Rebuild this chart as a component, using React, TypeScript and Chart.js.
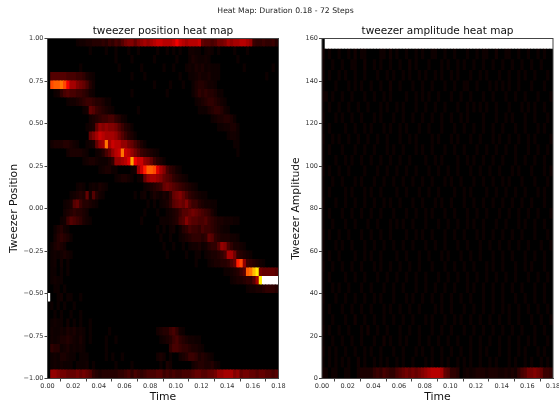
import React, { useEffect, useRef } from "react";
import { Chart, registerables } from "chart.js";

Chart.register(...registerables);

const STEP_WIDTH = 0.0025;
const TIME_MAX = 0.18;
const TIME_TICK_STEP = 0.02;

// Each row is one band of the heat map, top band first, one base-36 digit per time step (0 to z).
const POSITION_ROWS = [
  "00000000 01223344 45465768 abb9bcdc deffeeef hfedeeef 98878aab dcddeedc 65565564",
  "00000000 00000100 00100100 01001000 00100101 01002211 01210100 00100010 00000000",
  "00000000 00000000 00000100 00100000 01000000 10001321 12100000 00010000 00000000",
  "00000000 00100000 00000010 00000100 00001001 00012132 31211100 00000100 00000010",
  "08888877 76653210 00000000 00100010 00000000 01001123 22311100 00000000 00001000",
  "0lmmnlhd dba97420 00000000 00000000 01000010 00100134 43221000 00000000 00000000",
  "00125787 76654210 00000000 00100000 00000100 00000135 45443110 00000000 00000000",
  "00000012 23456654 43110000 00000000 00000000 00000012 34554321 00000000 00000000",
  "00000000 00012986 54321000 00001000 00000000 00000001 11345542 10000000 00000000",
  "00000000 00000234 56677542 10000000 00000000 00000000 00012334 43100000 00000000",
  "00000000 00001239 cbcbba86 43100000 00000000 00000000 00000112 23310000 00000000",
  "00000000 000009bd fedddca8 64310000 00000000 00000000 00000000 12210000 00000000",
  "02333443 21001239 cdndfeec ca975310 00000000 00000000 00000000 00110000 00000000",
  "00000023 33321001 2479cefn feca8654 32100000 00000000 00000000 00010000 00000000",
  "00000000 00012332 11135ccd egphffcb 96431000 00000000 00000000 00000000 00000000",
  "00000000 00000000 12331100 0012cfjm mlgdb754 21000000 00000000 00000000 00000000",
  "00000000 00000000 00000123 3210129c ddcb9875 43210000 00000000 00000000 00000000",
  "00000000 01210121 32100000 00000012 34569a98 76543210 00000000 00000000 00000000",
  "00000001 23439284 21000000 00010120 13213259 ab975432 11000000 00000000 00000000",
  "00000123 89644321 00000000 00000001 01012358 9a9b8664 32211000 00000000 00000000",
  "00000234 54432000 00000000 00000010 00100123 46889a98 76531000 00000000 00000000",
  "00001268 76532100 00000000 00000100 00011123 478b9887 78654332 22110000 00000000",
  "00134210 00000000 00000000 00000000 00101012 01457665 76654321 10000000 00000000",
  "00245431 00000000 00000000 00000000 00010010 01234555 45985433 32210000 00000000",
  "01343200 00000000 00000000 00000000 00001001 00101223 124558cb 75332100 00000000",
  "01212321 00000000 00000000 00000000 00000100 00010011 01233457 dda54321 00000000",
  "01202010 00000000 00000000 00000000 00000000 00000010 00123344 579jlc65 43210000",
  "01101010 00000000 00000000 00000000 00000000 00000000 00000001 123468mn qsa99998",
  "01211000 00000000 00000000 00000000 00000000 00000000 00000000 01233455 8dszzzzz",
  "00110100 00000000 00000000 00000000 00000000 00000000 00000000 00000012 23345554",
  "z0012011 00100000 00000000 00000000 00000000 00000000 00000000 00000000 00000000",
  "01010100 10000000 00000000 00000000 00000000 00000000 00000000 00000000 00000000",
  "00101001 00100000 00000000 00000000 00000000 00000000 00000000 00000000 00000000",
  "01211020 10100100 00000000 00000000 00000000 00000000 00000000 00000000 00000000",
  "02112132 31210100 00010000 00000000 00234467 52100000 00000000 00000000 00000000",
  "02123343 21310100 00100100 00000000 00012346 75432211 00000000 00000000 00000000",
  "05441231 21210000 00100000 00000000 00000057 76554332 10000000 00000000 00000000",
  "01213321 10111000 00101001 00000000 00232010 02346653 43210000 00000000 00000000",
  "01212111 01112010 00000100 00100000 00010320 00000234 43342100 00000000 00000000",
  "0ccbaa99 9a9a9854 34444455 67576567 77886767 66777899 8899accd ddbc9aa9 98998878",
];

const AMPLITUDE_ROWS = [
  "0zzzzzzz zzzzzzzz zzzzzzzz zzzzzzzz zzzzzzzz zzzzzzzz zzzzzzzz zzzzzzzz zzzzzzzz",
  "20100100 10201100 00110201 00100101 00110010 01000100 10110020 01100100 10010100",
  "10010010 01100200 10100100 10020100 01000101 00101001 00100100 10010010 01001000",
  "20100101 00100100 01001010 01010010 10010100 10100010 01010001 00100101 00100010",
  "10001000 10101001 00100200 10001001 00100010 01001100 10001010 10100100 01000100",
  "21010010 01000100 10010100 00100101 01001000 10010010 00100100 01001001 00010001",
  "10100100 10010010 00101001 01000100 10010010 00100101 01010010 00100010 10100100",
  "20001010 01001000 10100010 01001001 00100100 10010100 00100010 01010001 00100010",
  "10100001 00100101 00010100 10100010 01000100 01001001 00100100 10001001 00010100",
  "20010100 10010010 01001000 10010100 00101000 10100010 01000101 00100100 10100001",
  "10100010 00100100 10001010 01000101 00100010 01001000 10010010 01001000 10010010",
  "10001001 01001001 00100100 10010000 10010100 00100101 00100100 10001001 00100100",
  "20100100 10000100 01001001 00100100 01001001 00100010 01001001 00010100 01000101",
  "10010010 00101000 10010010 01001001 00100010 10010001 00100100 10100010 00100010",
  "10100001 01000101 00100001 00100010 01001000 01001010 00010010 01001001 00010100",
  "20001001 00100100 10010100 10001001 00010100 10001001 00100100 10010010 01000100",
  "10100010 01001001 00100010 00100100 10100010 01000100 10010001 00100100 10010001",
  "10010001 00100010 01000101 01001000 10001001 00100101 00100010 01000101 00100100",
  "20100100 10001001 00100100 00100101 00100010 01001000 10100100 10010010 00100010",
  "10001010 01000100 10010010 01001000 10010010 00100100 01001001 00100100 10001001",
  "10100100 00100101 00100001 00100010 01000101 00010010 01000100 10010001 00100100",
  "20010010 01001000 10100100 10010010 00100010 01001001 00010100 10001001 01000100",
  "10100001 00100100 01001001 00100100 10001001 00100100 10010010 01001000 10010010",
  "10010100 10001001 00010010 01000100 10010010 01000101 00100100 10010010 00100100",
  "20001001 00100100 10100010 00101001 00100100 10010010 00100100 10001001 00100100",
  "10100010 01001001 00010100 10010010 00010100 10001001 00100100 10100100 10010010",
  "10010001 00200100 10010010 01001000 10100010 01010010 01001001 00100100 01001001",
  "20100100 10001020 01001000 10010010 00100100 10001001 00100100 10010010 00100100",
  "10010010 01001000 10020100 10100010 01001001 00100010 01001001 00100100 10100010",
  "20101001 00100101 00100010 01000101 00100100 10010010 01010001 00100101 00010100",
  "10101010 10020100 10101001 01001000 10100101 00101010 01001010 00101001 01001010",
  "21011001 10023333 56576557 89a9a9ab cdeeed98 55401212 33323332 23232578 aaba9665",
];

const hot = (v: number): string => {
  const clamp = (t: number) => Math.max(0, Math.min(1, t));
  const r = clamp(v / 0.365);
  const g = clamp((v - 0.365) / 0.381);
  const b = clamp((v - 0.746) / 0.254);
  return `rgb(${Math.round(r * 255)},${Math.round(g * 255)},${Math.round(b * 255)})`;
};

const level = (d: number): number =>
  d === 0 ? 0 : Math.min(1, Math.pow(d / 35, 1.5) + 0.015 * (1 - d / 35));

const decode = (rows: string[]): number[][] =>
  rows.map((row) =>
    row
      .replace(/ /g, "")
      .padEnd(72, "0")
      .split("")
      .map((ch) => level(parseInt(ch, 36)))
  );

const frame = {
  id: "frame",
  beforeDatasetsDraw(chart: any) {
    const { ctx, chartArea: a } = chart;
    ctx.save();
    ctx.fillStyle = "#000";
    ctx.fillRect(a.left, a.top, a.right - a.left, a.bottom - a.top);
    ctx.restore();
  },
  afterDraw(chart: any) {
    const { ctx, chartArea: a } = chart;
    ctx.save();
    ctx.strokeStyle = "#444";
    ctx.lineWidth = 1;
    ctx.strokeRect(a.left, a.top, a.right - a.left, a.bottom - a.top);
    ctx.restore();
  },
};

type PanelProps = {
  rows: string[];
  yMin: number;
  yMax: number;
  yStep: number;
  digits: number;
  title: string;
  yTitle: string;
  areaLeft: number;
  rightPad: number;
  titleInset: number;
  left: number;
  width: number;
};

function Panel(p: PanelProps) {
  const ref = useRef<HTMLCanvasElement>(null);
  useEffect(() => {
    const grid = decode(p.rows);
    const band = (p.yMax - p.yMin) / grid.length;
    const points: any[] = [];
    const colors: string[] = [];
    grid.forEach((row, r) =>
      row.forEach((v, c) => {
        const hi = p.yMax - r * band;
        points.push({ x: (c + 0.5) * STEP_WIDTH, y: [hi - band, hi] });
        colors.push(hot(v));
      })
    );
    const tickFont = { family: "'DejaVu Sans'", size: 6.5 };
    const titleFont = { family: "'DejaVu Sans'", size: 10.5, weight: "normal" as const };
    const axisFont = { family: "'DejaVu Sans'", size: 10.8, weight: "normal" as const };
    const chart = new Chart(ref.current!, {
      type: "bar",
      data: {
        datasets: [
          {
            data: points,
            backgroundColor: colors,
            borderWidth: 0,
            categoryPercentage: 1,
            barPercentage: 1,
            inflateAmount: 0.5,
          } as any,
        ],
      },
      plugins: [frame],
      options: {
        animation: false,
        responsive: false,
        devicePixelRatio: 1,
        layout: { padding: { top: 24.7, right: p.rightPad, left: 0, bottom: 0 } },
        plugins: {
          legend: { display: false },
          tooltip: { enabled: false },
          title: {
            display: true,
            text: p.title,
            fullSize: false,
            color: "#111",
            font: titleFont,
            padding: { top: 0, bottom: 1.2 },
          },
        },
        scales: {
          x: {
            type: "linear",
            min: 0,
            max: TIME_MAX,
            offset: false,
            grid: { drawOnChartArea: false, tickLength: 3, color: "#444" },
            border: { color: "#444" },
            ticks: {
              stepSize: TIME_TICK_STEP,
              maxRotation: 0,
              autoSkip: false,
              padding: 1,
              color: "#333",
              font: tickFont,
              callback: (v: any) => Number(v).toFixed(2),
            },
            title: {
              display: true,
              text: "Time",
              color: "#111",
              font: axisFont,
              padding: { top: 0, bottom: 4 },
            },
            afterFit: (s: any) => {
              s.height = 29.5;
              s.paddingLeft = 0;
              s.paddingRight = 0;
            },
          },
          y: {
            type: "linear",
            min: p.yMin,
            max: p.yMax,
            grid: { drawOnChartArea: false, tickLength: 3, color: "#444" },
            border: { color: "#444" },
            ticks: {
              stepSize: p.yStep,
              autoSkip: false,
              padding: 1,
              color: "#333",
              font: tickFont,
              callback: (v: any) => Number(v).toFixed(p.digits).replace("-", "\u2212"),
            },
            title: {
              display: true,
              text: p.yTitle,
              color: "#111",
              font: axisFont,
              padding: { top: p.titleInset, bottom: 2 },
            },
            afterFit: (s: any) => {
              s.width = p.areaLeft;
              s.paddingTop = 0;
              s.paddingBottom = 0;
            },
          },
        },
      },
    });
    return () => chart.destroy();
  }, []);
  return (
    <canvas
      ref={ref}
      width={p.width}
      height={408}
      style={{
        position: "absolute",
        left: p.left,
        top: 0,
        width: p.width,
        height: 408,
        filter: "blur(0.3px)",
      }}
    />
  );
}

export default function App() {
  return (
    <div
      style={{
        position: "fixed",
        left: 0,
        top: 0,
        width: 559,
        height: 408,
        background: "#fff",
        overflow: "hidden",
      }}
    >
      <Panel
        rows={POSITION_ROWS}
        yMin={-1}
        yMax={1}
        yStep={0.25}
        digits={2}
        title="tweezer position heat map"
        yTitle="Tweezer Position"
        areaLeft={47.5}
        rightPad={21.5}
        titleInset={8}
        left={0}
        width={300}
      />
      <Panel
        rows={AMPLITUDE_ROWS}
        yMin={0}
        yMax={160}
        yStep={20}
        digits={0}
        title="tweezer amplitude heat map"
        yTitle="Tweezer Amplitude"
        areaLeft={34}
        rightPad={6}
        titleInset={2}
        left={288}
        width={271}
      />
      <div
        style={{
          position: "absolute",
          left: 6,
          width: 559,
          top: 6,
          textAlign: "center",
          fontFamily: "'DejaVu Sans'",
          fontSize: 7.7,
          lineHeight: "10px",
          color: "#222",
        }}
      >
        Heat Map: Duration 0.18 - 72 Steps
      </div>
    </div>
  );
}
